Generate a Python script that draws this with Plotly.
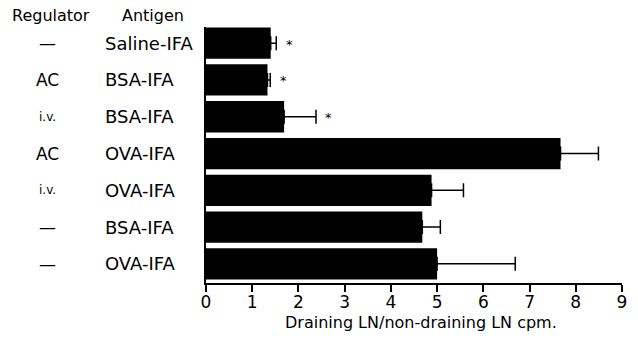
import plotly.graph_objects as go

regulators = ["—", "AC", "i.v.", "AC", "i.v.", "—", "—"]
antigens = ["Saline-IFA", "BSA-IFA", "BSA-IFA", "OVA-IFA", "OVA-IFA", "BSA-IFA", "OVA-IFA"]
values = [1.40, 1.33, 1.69, 7.67, 4.88, 4.68, 5.00]
err_plus = [0.12, 0.06, 0.69, 0.82, 0.69, 0.39, 1.69]
significance = ["*", "*", "*", "", "", "", ""]
x_ticks = [0, 1, 2, 3, 4, 5, 6, 7, 8, 9]
x_title = "Draining LN/non-draining LN cpm."

FONT = "DejaVu Sans"
pos = list(range(len(values)))

# plot area targeted at x 206..622, y 27..283
L, R, T, B = 206, 16, 27, 60
W = 416.0
H = 256.0

fig = go.Figure()
fig.add_trace(go.Bar(
    x=values, y=pos, orientation="h", width=0.85,
    marker=dict(color="black", line=dict(width=0)),
    error_x=dict(type="data", symmetric=False, array=err_plus,
                 arrayminus=[0] * len(values), color="black",
                 thickness=1.5, width=7),
    showlegend=False, hoverinfo="skip",
))

def px_to_paper_x(px):
    return (px - L) / W

annotations = []
for i, (r, a) in enumerate(zip(regulators, antigens)):
    annotations.append(dict(
        x=px_to_paper_x(47), xref="paper", y=pos[i], yref="y",
        text=r, showarrow=False, xanchor="center", yanchor="middle",
        font=dict(family=FONT, size=12 if r == "i.v." else 17, color="black")))
    annotations.append(dict(
        x=px_to_paper_x(103), xref="paper", y=pos[i], yref="y",
        text=a, showarrow=False, xanchor="left", yanchor="middle",
        font=dict(family=FONT, size=18, color="black")))
    if significance[i]:
        annotations.append(dict(
            x=values[i] + err_plus[i] + 0.28, xref="x", y=pos[i], yref="y",
            text=significance[i], showarrow=False, xanchor="center",
            yanchor="middle", yshift=-1,
            font=dict(family=FONT, size=13, color="black")))

annotations.append(dict(
    x=px_to_paper_x(51), xref="paper", y=1 + (T - 15) / H, yref="paper",
    text="Regulator", showarrow=False, xanchor="center", yanchor="middle",
    font=dict(family=FONT, size=16, color="black")))
annotations.append(dict(
    x=px_to_paper_x(153), xref="paper", y=1 + (T - 15) / H, yref="paper",
    text="Antigen", showarrow=False, xanchor="center", yanchor="middle",
    font=dict(family=FONT, size=16, color="black")))
annotations.append(dict(
    x=px_to_paper_x(421), xref="paper", y=-(322 - (T + H)) / H, yref="paper",
    text=x_title, showarrow=False, xanchor="center", yanchor="middle",
    font=dict(family=FONT, size=16, color="black")))

fig.update_layout(
    width=638, height=343,
    margin=dict(l=L, r=R, t=T, b=B, autoexpand=False),
    paper_bgcolor="white", plot_bgcolor="white",
    font=dict(family=FONT, color="black"),
    annotations=annotations,
    bargap=0.15,
)
fig.update_xaxes(
    range=[0, 9], tickvals=x_ticks, ticktext=[str(t) for t in x_ticks],
    showline=True, linecolor="black", linewidth=1.5,
    ticks="outside", ticklen=7, tickwidth=1.5, tickcolor="black",
    ticklabelstandoff=-4,
    showgrid=False, zeroline=False,
    tickfont=dict(family=FONT, size=17, color="black"),
)
fig.update_yaxes(
    range=[6.52, -0.44], showline=True, linecolor="black", linewidth=1.5,
    showticklabels=False, ticks="", showgrid=False, zeroline=False,
)

fig.write_html("out.html", config={"displayModeBar": False},
               post_script="document.body.style.margin='0';")
